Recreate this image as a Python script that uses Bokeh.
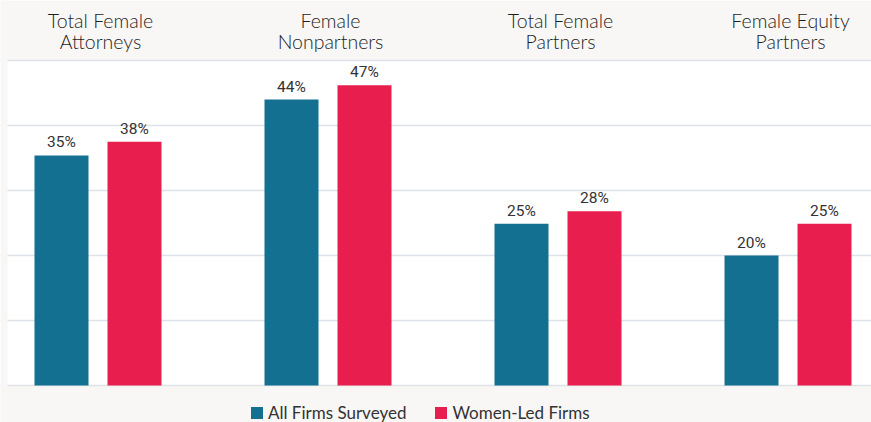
from bokeh.plotting import figure
from bokeh.models import (Range1d, Grid, FixedTicker, Legend, LegendItem,
                          ColumnDataSource, Label, BoxAnnotation)
from bokeh.core.properties import value
from bokeh.embed import file_html
from bokeh.resources import INLINE
import numpy as np

# ---- data ----
categories = ["Total Female\nAttorneys", "Female\nNonpartners", "Total Female\nPartners", "Female Equity\nPartners"]
series_names = ["All Firms Surveyed", "Women-Led Firms"]
all_firms = [35.4, 44.0, 24.9, 20.0]          # bar heights
women_led = [37.5, 46.2, 26.8, 24.9]
all_firms_labels = ["35%", "44%", "25%", "20%"]
women_led_labels = ["38%", "47%", "28%", "25%"]
grid_ticks = [0, 10, 20, 30, 40, 50]

BLUE = "#147091"
RED = "#e81f4e"
BG = "#f8f7f5"
TEXT = "#333333"
GRID = "#dde1e8"

W, H = 871, 422
PX_X = 230.0      # pixels per category
PX_Y = 6.5        # pixels per percent
X0, Y0 = 97.5, 385.0   # pixel position of first category centre / zero line

p = figure(width=W, height=H, output_backend="svg", toolbar_location=None,
           x_axis_type=None, y_axis_type=None,
           x_range=Range1d(-X0 / PX_X, (W - X0) / PX_X),
           y_range=Range1d(-(H - Y0) / PX_Y, Y0 / PX_Y),
           min_border=0)
p.border_fill_color = BG
p.background_fill_color = "white"
p.outline_line_color = None

# grey header band and legend band
p.add_layout(BoxAnnotation(bottom=max(grid_ticks), fill_color=BG, fill_alpha=1,
                           line_color=None, level="underlay"))
p.add_layout(BoxAnnotation(top=0, fill_color=BG, fill_alpha=1,
                           line_color=None, level="underlay"))

p.add_layout(Grid(dimension=1, ticker=FixedTicker(ticks=grid_ticks),
                  grid_line_color=GRID, grid_line_width=1.5))

# grey strip on the left
p.add_layout(BoxAnnotation(right=(7 - X0) / PX_X, fill_color=BG, fill_alpha=1,
                           line_color=None, level="underlay"))

idx = np.arange(len(categories))
off = 36.5 / PX_X
bw = 54 / PX_X

src_a = ColumnDataSource(dict(x=idx - off, top=all_firms, lab=all_firms_labels))
src_b = ColumnDataSource(dict(x=idx + off, top=women_led, lab=women_led_labels))

r1 = p.vbar(x="x", top="top", width=bw, source=src_a, fill_color=BLUE, line_color=None)
r2 = p.vbar(x="x", top="top", width=bw, source=src_b, fill_color=RED, line_color=None)

for src in (src_a, src_b):
    p.text(x="x", y="top", text="lab", source=src, text_align="center",
           text_baseline="bottom", y_offset=-4, text_color=TEXT,
           text_font=value("Roboto"), text_font_size="15.5px")

# category headers (two lines each)
hdr_dx = 2.5 / PX_X
for i, cat in enumerate(categories):
    for j, line in enumerate(cat.split("\n")):
        base_px = [20, 41][j]
        p.add_layout(Label(x=float(idx[i]) + hdr_dx, y=(Y0 - base_px) / PX_Y, text=line,
                           text_align="center", text_baseline="alphabetic",
                           text_color="#1e1e1e", text_font="Lato Light, Lato",
                           text_font_size="19.5px"))

legend = Legend(items=[LegendItem(label=series_names[0], renderers=[r1]),
                       LegendItem(label=series_names[1], renderers=[r2])],
                orientation="horizontal", location=(249, -1),
                glyph_width=15, glyph_height=15, label_height=14, label_standoff=4, spacing=27,
                padding=0, margin=0, border_line_color=None,
                background_fill_alpha=0, label_text_font="Lato",
                label_text_font_size="17px", label_text_color=TEXT)
p.add_layout(legend)

open("out.html", "w").write(file_html(p, INLINE))
